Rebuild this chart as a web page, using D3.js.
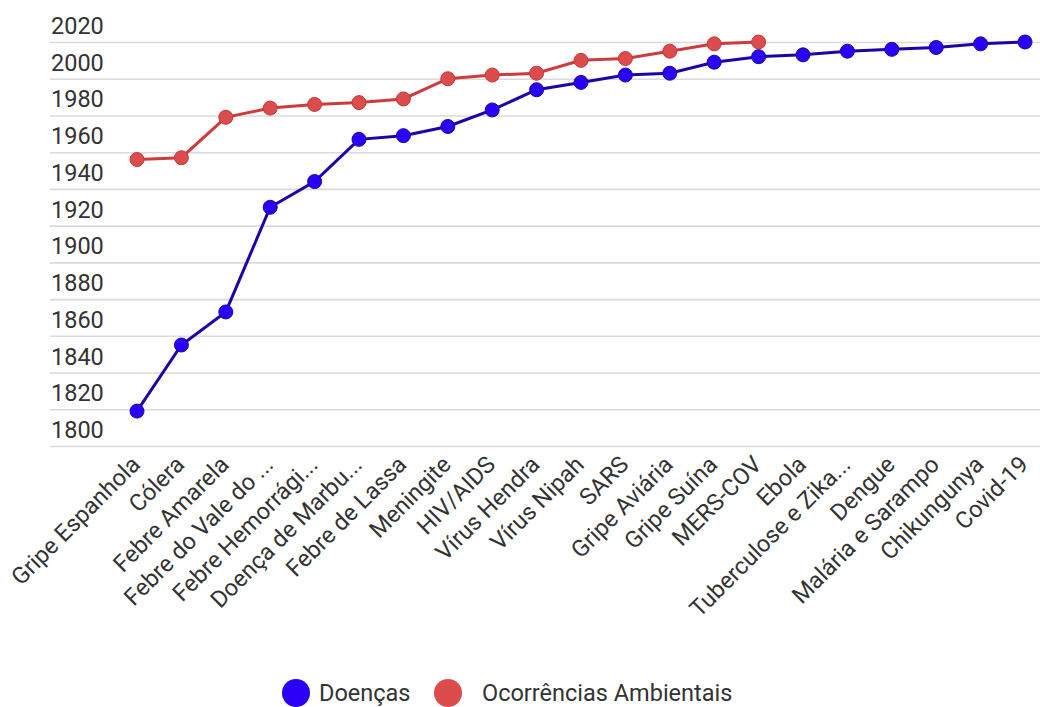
<!DOCTYPE html>
<html>
<head>
<meta charset="utf-8">
<script src="https://cdn.jsdelivr.net/npm/d3@7"></script>
<style>
  html, body { margin: 0; padding: 0; background: #fff; }
  svg { display: block; font-family: Roboto, "Noto Sans", sans-serif; }
</style>
</head>
<body>
<svg id="chart" width="1040" height="707"></svg>
<script>
const categories = ["Gripe Espanhola", "Cólera", "Febre Amarela", "Febre do Vale do ...", "Febre Hemorrági...", "Doença de Marbu...", "Febre de Lassa", "Meningite", "HIV/AIDS", "Vírus Hendra", "Vírus Nipah", "SARS", "Gripe Aviária", "Gripe Suína", "MERS-COV", "Ebola", "Tuberculose e Zika...", "Dengue", "Malária e Sarampo", "Chikungunya", "Covid-19"];
const doencas = [1819, 1855, 1873, 1930, 1944, 1967, 1969, 1974, 1983, 1994, 1998, 2002, 2003, 2009, 2012, 2013, 2015, 2016, 2017, 2019, 2020];
const ambientais = [1956, 1957, 1979, 1984, 1986, 1987, 1989, 2000, 2002, 2003, 2010, 2011, 2015, 2019, 2020];
const yTicks = [1800, 1820, 1840, 1860, 1880, 1900, 1920, 1940, 1960, 1980, 2000, 2020];
const seriesNames = ["Doenças", "Ocorrências Ambientais"];

const svg = d3.select("#chart");
const x = d3.scalePoint().domain(categories).range([137, 1025]);
const y = d3.scaleLinear().domain([1800, 2020]).range([446, 42]);

// gridlines + y labels
const yAxis = d3.axisLeft(y).tickValues(yTicks).tickSize(0).tickFormat(d3.format("d"));
const gy = svg.append("g").call(yAxis);
gy.select(".domain").remove();
gy.selectAll(".tick line").remove();
gy.selectAll(".tick").append("line")
  .attr("x1", 50).attr("x2", 1040).attr("y1", 0).attr("y2", 0)
  .attr("stroke", "#dadada").attr("stroke-width", 1.6);
gy.selectAll(".tick text")
  .attr("x", 51).attr("dy", null).attr("y", -8.5)
  .attr("text-anchor", "start")
  .style("font-family", "Roboto, sans-serif")
  .style("font-size", "23.5px").attr("fill", "#333");

// x labels
const xAxis = d3.axisBottom(x).tickSize(0);
const gx = svg.append("g").attr("transform", "translate(0,446)").call(xAxis);
gx.select(".domain").remove();
gx.selectAll(".tick text")
  .attr("y", 0).attr("dy", null)
  .attr("transform", "translate(4,20) rotate(-45)")
  .attr("text-anchor", "end")
  .style("font-family", "Roboto, sans-serif")
  .style("font-size", "23.5px").attr("fill", "#333");

const series = [
  { name: seriesNames[1], values: ambientais, line: "#cf3b3b", fill: "#dd4c4c", stroke: "#c23a3a" },
  { name: seriesNames[0], values: doencas, line: "#1a06a8", fill: "#2a00f5", stroke: "#1c06a8" }
];

const line = d3.line().x((d, i) => x(categories[i])).y(d => y(d));

series.forEach(s => {
  const g = svg.append("g");
  g.append("path").datum(s.values)
    .attr("d", line).attr("fill", "none")
    .attr("stroke", s.line).attr("stroke-width", 3);
  g.selectAll("circle").data(s.values).join("circle")
    .attr("cx", (d, i) => x(categories[i]))
    .attr("cy", d => y(d))
    .attr("r", 7)
    .attr("fill", s.fill).attr("stroke", s.stroke).attr("stroke-width", 1);
});

// legend
const legend = [
  { name: seriesNames[0], color: "#2a00f5", cx: 296, tx: 319 },
  { name: seriesNames[1], color: "#dd4c4c", cx: 448, tx: 482 }
];
const lg = svg.append("g");
legend.forEach(l => {
  lg.append("circle").attr("cx", l.cx).attr("cy", 693).attr("r", 14).attr("fill", l.color);
  lg.append("text").attr("x", l.tx).attr("y", 701)
    .style("font-family", "Roboto, sans-serif").style("font-size", "23.5px")
    .attr("fill", "#333").text(l.name);
});
</script>
</body>
</html>
